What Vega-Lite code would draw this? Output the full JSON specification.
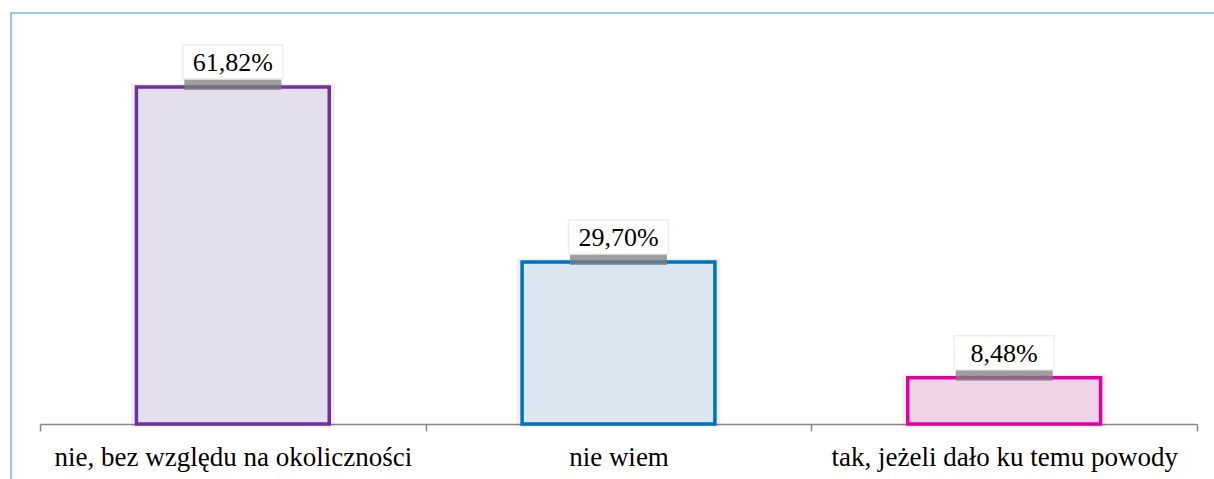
{
  "$schema": "https://vega.github.io/schema/vega-lite/v6.json",
  "width": 1203,
  "height": 466,
  "autosize": {"type": "none"},
  "padding": {"left": 11, "top": 13, "right": 0, "bottom": 0},
  "background": "white",
  "config": {
    "locale": {"number": {"decimal": ",", "thousands": " ", "grouping": [3], "currency": ["", " zł"]}},
    "view": {"stroke": "#9DC3E6", "strokeWidth": 2, "strokeDash": [1203, 1669, 466]},
    "axis": {
      "title": null,
      "grid": false,
      "domainColor": "#868686",
      "domainWidth": 1.5,
      "tickColor": "#868686",
      "tickWidth": 1.5,
      "tickSize": 7,
      "labelFont": "Liberation Serif",
      "labelFontSize": 27,
      "labelColor": "#000000",
      "labelAngle": 0,
      "labelLimit": 0
    }
  },
  "data": {
    "values": [
      {"kategoria": "nie, bez względu na okoliczności", "odsetek": 0.6182},
      {"kategoria": "nie wiem", "odsetek": 0.2970},
      {"kategoria": "tak, jeżeli dało ku temu powody", "odsetek": 0.0848}
    ]
  },
  "encoding": {
    "x": {
      "field": "kategoria",
      "type": "nominal",
      "sort": null,
      "scale": {"range": [29, 1186], "paddingInner": 0, "paddingOuter": 0},
      "axis": {"tickBand": "extent", "offset": -55, "labelBaseline": "alphabetic", "labelPadding": 34}
    },
    "y": {
      "field": "odsetek",
      "type": "quantitative",
      "scale": {"domain": [0, 0.7], "range": [411, 29.4], "nice": false},
      "axis": null
    }
  },
  "layer": [
    {
      "mark": {"type": "bar", "width": {"band": 0.51}, "fill": null, "fillOpacity": 0, "stroke": "#000000", "strokeOpacity": 0.06, "strokeWidth": 7}
    },
    {
      "mark": {"type": "bar", "width": {"band": 0.5}, "strokeWidth": 3.5},
      "encoding": {
        "fill": {
          "field": "kategoria",
          "type": "nominal",
          "scale": {
            "domain": ["nie, bez względu na okoliczności", "nie wiem", "tak, jeżeli dało ku temu powody"],
            "range": ["#E4DFEC", "#DCE6F1", "#EED2E6"]
          },
          "legend": null
        },
        "stroke": {
          "field": "kategoria",
          "type": "nominal",
          "scale": {
            "domain": ["nie, bez względu na okoliczności", "nie wiem", "tak, jeżeli dało ku temu powody"],
            "range": ["#7030A0", "#0070C0", "#E3009A"]
          },
          "legend": null
        }
      }
    },
    {
      "mark": {"type": "point", "shape": "M-1,-0.113H1V0.113H-1Z", "size": 9409, "filled": true, "fill": "#7f7f7f", "opacity": 0.75, "strokeWidth": 0, "yOffset": -2.5}
    },
    {
      "mark": {"type": "point", "shape": "M-1,-0.34H1V0.34H-1Z", "size": 10000, "filled": true, "fill": "#ffffff", "stroke": "#ececec", "strokeWidth": 1.5, "opacity": 1, "yOffset": -25}
    },
    {
      "mark": {"type": "text", "font": "Liberation Serif", "fontSize": 26, "baseline": "alphabetic", "dy": -16, "color": "#000000"},
      "encoding": {"text": {"field": "odsetek", "type": "quantitative", "format": ".2%"}}
    }
  ]
}
